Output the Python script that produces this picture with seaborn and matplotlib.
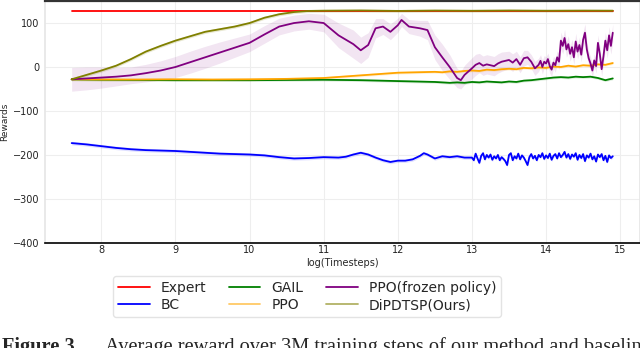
# Average reward curves: DiPDTSP vs baselines
import numpy as np
import matplotlib
matplotlib.use("Agg")
import matplotlib.pyplot as plt
import seaborn as sns

# ------------------------------------------
# Data
# ------------------------------------------

expert_x = [7.6, 14.9]
expert_y = [128, 128]

# DiPDTSP(Ours)
ours_x = [7.6, 7.8, 8.0, 8.2, 8.4, 8.6, 8.8, 9.0, 9.2, 9.4, 9.6, 9.8, 10.0, 10.2,
          10.4, 10.6, 10.8, 11.0, 11.5, 12.0, 12.5, 13.0, 13.5, 14.0, 14.5, 14.9]
ours_y = [-28, -18, -8, 3, 18, 35, 48, 60, 70, 80, 86, 92, 100, 112,
          120, 125, 127.5, 128, 128.5, 127.5, 128.3, 127.8, 128.4, 127.9, 128.2, 128]

# PPO(frozen policy): smooth part
frozen_x = [7.6, 7.8, 8.0, 8.2, 8.4, 8.6, 8.8, 9.0, 9.2, 9.4, 9.6, 9.8, 10.0, 10.2,
            10.4, 10.6, 10.8, 11.0, 11.2, 11.4, 11.5, 11.6, 11.7, 11.8, 11.9, 12.0,
            12.05, 12.15, 12.3, 12.4, 12.5, 12.6, 12.7, 12.8, 12.85, 12.9, 13.0, 13.05,
            13.1, 13.15, 13.2, 13.3, 13.35, 13.4, 13.5, 13.55, 13.6, 13.65, 13.7, 13.75,
            13.8, 13.85]
frozen_y = [-28, -26, -24, -22, -19, -14, -8, 0, 11, 22, 33, 44, 55, 74,
            92, 100, 104, 100, 72, 52, 38, 50, 88, 92, 80, 95,
            107, 92, 88, 84, 45, 22, 0, -25, -30, -18, -3, 5,
            9, 3, 6, 2, 8, 12, 16, 10, 18, 5, 20, 22,
            12, -3]
frozen_sd = [27, 26, 24, 21, 19, 20, 22, 24, 25, 25, 24, 22, 20, 20,
             19, 18, 18, 20, 28, 32, 30, 28, 22, 18, 18, 16,
             15, 16, 18, 22, 28, 30, 28, 22, 20, 22, 24, 24,
             22, 22, 22, 22, 22, 22, 20, 20, 18, 18, 18, 16,
             16, 16]
# PPO(frozen policy): noisy tail, 13.9 -> 14.9
frozen_tail_y = [5, 14, 0, 12, 8, 18, 2, -6, 10, 4,
                 22, 12, 60, 48, 66, 40, 52, 30, 45, 22,
                 58, 35, 50, 28, 62, 78, 40, 20, 8, -8,
                 15, 2, 55, 30, -5, 25, 60, 38, 72, 48,
                 78]
frozen_tail_sd = [15, 14, 16, 14, 15, 14, 16, 15, 14, 16,
                  15, 18, 20, 18, 20, 18, 19, 17, 18, 16,
                  19, 17, 18, 16, 19, 20, 18, 16, 15, 16,
                  15, 16, 18, 17, 16, 17, 19, 18, 20, 19,
                  20]

# PPO
ppo_x = [7.6, 8.0, 8.5, 9.0, 9.5, 10.0, 10.5, 11.0, 11.5, 12.0, 12.5]
ppo_y = [-28, -28.5, -28.5, -28, -28.5, -28, -27, -25, -19, -13, -11]
ppo_tail_y = [-12, -10, -11, -9, -8, -9, -6, -7, -5, -4, -5, -2,
              -3, -1, -2, 1, 0, 3, 1, 4, 3, 6, 5, 9]

# GAIL
gail_x = [7.6, 8.0, 8.5, 9.0, 9.5, 10.0, 10.5, 11.0, 11.5, 12.0, 12.5]
gail_y = [-28, -29, -29.5, -30, -30, -30, -29.5, -29, -30, -32, -34]
gail_tail_y = [-35, -36, -35, -36, -34, -35, -33, -34, -35, -33, -34, -31,
               -30, -28, -26, -24, -23, -24, -22, -23, -22, -25, -30, -26]

# BC
bc_x = [7.6, 7.8, 8.0, 8.2, 8.4, 8.6, 8.8, 9.0, 9.2, 9.4, 9.6, 9.8, 10.0, 10.2,
        10.4, 10.6, 10.8, 11.0, 11.2, 11.3, 11.4, 11.5, 11.6, 11.7, 11.8, 11.9,
        12.0, 12.1, 12.2, 12.3, 12.35, 12.4, 12.5, 12.6, 12.7, 12.8, 12.9]
bc_y = [-173, -176, -180, -184, -187, -189, -190, -191, -193, -195, -197, -198, -199, -201,
        -205, -208, -207, -205, -206, -204, -199, -195, -199, -206, -212, -216,
        -213, -213, -210, -202, -196, -199, -208, -203, -205, -203, -206]
bc_tail_y = [-206,
             -212, -197, -208, -218, -202, -196, -210, -200,
             -206, -199, -211, -203, -208, -200, -212, -205,
             -209, -214, -223, -200, -196, -212, -203, -208,
             -197, -210, -201, -206, -214, -223, -205, -198,
             -208, -202, -212, -200, -205, -196, -209, -201,
             -207, -197, -211, -202, -198, -208, -196, -205,
             -200, -193, -206, -198, -209, -199, -204, -196,
             -211, -200, -207, -198, -214, -201, -206, -197,
             -210, -203, -215, -199, -205, -198, -212, -202,
             -216, -201, -207, -203]

x_ticks = [8, 9, 10, 11, 12, 13, 14, 15]
y_ticks = [-400, -300, -200, -100, 0, 100]

# ------------------------------------------
# Assemble series
# ------------------------------------------

frozen_all_x = np.concatenate([frozen_x, np.linspace(13.9, 14.9, len(frozen_tail_y))])
frozen_all_y = np.concatenate([frozen_y, frozen_tail_y])
frozen_all_sd = np.concatenate([frozen_sd, frozen_tail_sd])

ppo_all_x = np.concatenate([ppo_x, np.linspace(12.6, 14.9, len(ppo_tail_y))])
ppo_all_y = np.concatenate([ppo_y, ppo_tail_y])

gail_all_x = np.concatenate([gail_x, np.linspace(12.6, 14.9, len(gail_tail_y))])
gail_all_y = np.concatenate([gail_y, gail_tail_y])

bc_all_x = np.concatenate([bc_x, np.linspace(13.0, 14.9, len(bc_tail_y))])
bc_all_y = np.concatenate([bc_y, bc_tail_y])

ours_x = np.array(ours_x)
ours_y = np.array(ours_y)

# ------------------------------------------
# Plot
# ------------------------------------------

sns.set_theme(style="whitegrid")
plt.rcParams["font.family"] = ["DejaVu Sans"]

fig = plt.figure(figsize=(6.4, 3.48), dpi=100)
ax = fig.add_axes([0.0703, 0.302, 0.93, 0.695])

# shaded bands
ax.fill_between(frozen_all_x, frozen_all_y - frozen_all_sd, frozen_all_y + frozen_all_sd,
                color="purple", alpha=0.1, lw=0)
ax.fill_between(ours_x, ours_y - 3.5, ours_y + 3.5, color="olive", alpha=0.18, lw=0)
ax.fill_between(bc_all_x, bc_all_y - 4, bc_all_y + 4, color="blue", alpha=0.12, lw=0)
ax.fill_between(ppo_all_x, ppo_all_y - 3, ppo_all_y + 3, color="orange", alpha=0.15, lw=0)
ax.fill_between(gail_all_x, gail_all_y - 3, gail_all_y + 3, color="green", alpha=0.12, lw=0)

lw = 1.3
sns.lineplot(x=expert_x, y=expert_y, color="red", lw=lw, label="Expert", ax=ax)
sns.lineplot(x=bc_all_x, y=bc_all_y, color="blue", lw=lw, label="BC", ax=ax)
sns.lineplot(x=gail_all_x, y=gail_all_y, color="green", lw=lw, label="GAIL", ax=ax)
sns.lineplot(x=ppo_all_x, y=ppo_all_y, color="orange", lw=lw, label="PPO", ax=ax)
sns.lineplot(x=frozen_all_x, y=frozen_all_y, color="purple", lw=lw,
             label="PPO(frozen policy)", ax=ax)
sns.lineplot(x=ours_x, y=ours_y, color="olive", lw=lw, label="DiPDTSP(Ours)", ax=ax)

ax.set_xlim(7.24, 15.27)
ax.set_ylim(-400, 150)
ax.set_xticks(x_ticks)
ax.set_yticks(y_ticks)
ax.grid(True, color="#eeeeee", lw=0.8)
ax.tick_params(axis="both", labelsize=7, length=2.5, width=0.8, pad=1.5,
               colors="#222222")
ax.tick_params(axis="x", length=0)

for side in ["left", "right"]:
    ax.spines[side].set_color("#e6e6e6")
ax.spines["top"].set_color("#333333")
ax.spines["top"].set_linewidth(1.6)
ax.spines["bottom"].set_color("black")
ax.spines["bottom"].set_linewidth(1.2)

ax.set_xlabel("log(Timesteps)", fontsize=7, labelpad=2)
ax.set_ylabel("Rewards", fontsize=6.5, labelpad=3)

# legend below the axes
handles, labels = ax.get_legend_handles_labels()
ax.get_legend().remove()
leg = fig.legend(handles, labels, loc="upper center", ncol=3,
                 bbox_to_anchor=(307 / 640, 1 - 269 / 348), fontsize=10,
                 handlelength=2.3, columnspacing=1.6, frameon=True,
                 borderpad=0.35, labelspacing=0.25)
leg.get_frame().set_edgecolor("#dddddd")
for h, t in zip(leg.legend_handles, labels):
    if t in ("PPO", "DiPDTSP(Ours)"):
        h.set_alpha(0.6)

# caption (cropped at the bottom in the reference)
fig.text(0.003, 1 - 352 / 348, "Figure 3.", family="Liberation Serif",
         fontsize=14.7, fontweight="bold", va="baseline")
fig.text(105 / 640, 1 - 352 / 348,
         "Average reward over 3M training steps of our method and baselines.",
         family="Liberation Serif", fontsize=14.7, va="baseline")

fig.savefig("out.png", dpi=100)
